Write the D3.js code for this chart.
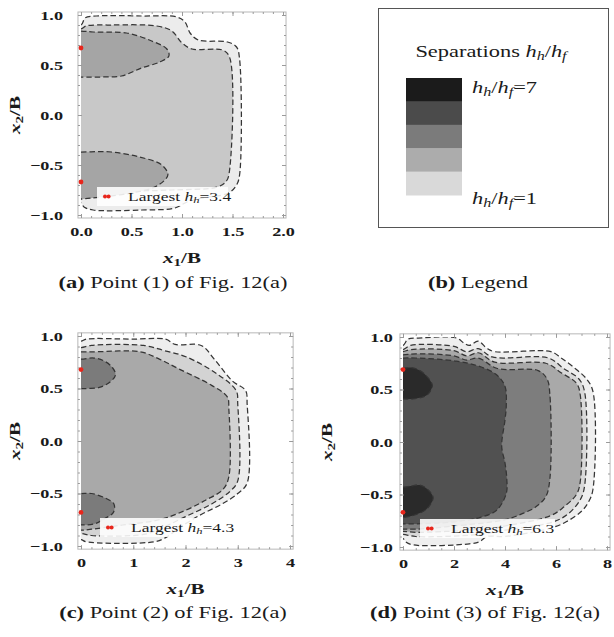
<!DOCTYPE html>
<html>
<head>
<meta charset="utf-8">
<script src="https://cdn.jsdelivr.net/npm/d3@7"></script>
<style>
  body { margin: 0; background: #fff; }
  text { font-family: "Liberation Serif", "Times New Roman", serif; fill: #1a1a1a; }
</style>
</head>
<body>
<svg width="614" height="637"></svg>
<script>
// ---- data ----
var yTicks = [-1, -0.5, 0, 0.5, 1],
    yTickLabels = ["\u22121.0", "\u22120.5", "0.0", "0.5", "1.0"];

var xTicksA = [0, 0.5, 1, 1.5, 2], xLabelsA = ["0.0", "0.5", "1.0", "1.5", "2.0"],
    xTicksC = [0, 1, 2, 3, 4],     xLabelsC = ["0", "1", "2", "3", "4"],
    xTicksD = [0, 2, 4, 6, 8],     xLabelsD = ["0", "2", "4", "6", "8"];

var largestHh = [3.4, 4.3, 6.3];
var peaksA = [[0, 0.67], [0, -0.67]],
    peaksC = [[0, 0.68], [0, -0.68]],
    peaksD = [[0, 0.69], [0, -0.67]];

// contour outlines (x1/B, x2/B); points left of x=0 are clipped away
var contourA1 = [[-0.3,0.9],[0,0.9],[0.04,0.97],[0.15,0.99],[0.6,0.99],[0.95,0.98],[1.03,0.93],[1.08,0.82],[1.16,0.75],[1.45,0.73],[1.54,0.68],[1.57,0.56],[1.57,-0.6],[1.54,-0.7],[1.46,-0.78],[1.2,-0.83],[1.05,-0.87],[0.93,-0.93],[0.6,-0.95],[0.12,-0.95],[0.03,-0.92],[0,-0.88],[-0.3,-0.88]];
var contourA2 = [[-0.3,0.86],[0,0.86],[0.05,0.89],[0.3,0.9],[0.75,0.89],[0.9,0.84],[1.0,0.72],[1.1,0.66],[1.4,0.65],[1.47,0.58],[1.47,-0.56],[1.44,-0.66],[1.35,-0.72],[0.9,-0.75],[0.3,-0.77],[0.08,-0.8],[0,-0.84],[-0.3,-0.84]];
var lobeA1 = [[-0.3,0.84],[0,0.84],[0.12,0.83],[0.45,0.82],[0.7,0.74],[0.85,0.66],[0.87,0.59],[0.78,0.53],[0.6,0.47],[0.4,0.39],[0.2,0.38],[0,0.38],[-0.3,0.38]];
var lobeA2 = [[-0.3,-0.37],[0,-0.37],[0.3,-0.37],[0.58,-0.42],[0.8,-0.5],[0.86,-0.6],[0.75,-0.71],[0.5,-0.78],[0.2,-0.82],[0,-0.84],[-0.3,-0.84]];

var contourC1 = [[-0.3,0.95],[0,0.95],[0.1,0.97],[1.0,0.97],[1.62,0.97],[1.8,0.92],[2.3,0.91],[2.55,0.78],[2.9,0.57],[3.15,0.48],[3.18,0.35],[3.18,-0.4],[3.0,-0.5],[2.7,-0.6],[2.3,-0.7],[1.9,-0.82],[1.62,-0.92],[1.4,-0.96],[0.1,-0.96],[0,-0.94],[-0.3,-0.94]];
var contourC2 = [[-0.3,0.89],[0,0.89],[0.2,0.91],[1.2,0.91],[1.6,0.86],[2.02,0.8],[2.6,0.64],[2.97,0.48],[3.0,0.35],[3.0,-0.38],[2.85,-0.48],[2.5,-0.6],[2.0,-0.72],[1.5,-0.84],[1.2,-0.89],[0.2,-0.9],[0,-0.88],[-0.3,-0.88]];
var contourC3 = [[-0.3,0.85],[0,0.85],[0.3,0.85],[1.13,0.85],[1.5,0.78],[1.9,0.68],[2.5,0.53],[2.8,0.42],[2.83,0.3],[2.83,-0.34],[2.72,-0.46],[2.4,-0.56],[2.0,-0.66],[1.5,-0.75],[0.8,-0.8],[0.2,-0.84],[0,-0.85],[-0.3,-0.85]];
var lobeC1 = [[-0.3,0.78],[0,0.78],[0.25,0.79],[0.45,0.76],[0.6,0.7],[0.66,0.63],[0.55,0.56],[0.35,0.51],[0.15,0.5],[0,0.5],[-0.3,0.5]];
var lobeC2 = [[-0.3,-0.5],[0,-0.5],[0.2,-0.5],[0.45,-0.54],[0.63,-0.6],[0.62,-0.68],[0.45,-0.74],[0.25,-0.79],[0,-0.8],[-0.3,-0.8]];

var contourD1 = [[-0.5,0.9],[0,0.92],[0.2,0.98],[0.6,0.99],[2.1,0.99],[2.4,0.94],[2.6,0.92],[2.95,0.96],[3.3,0.89],[3.6,0.86],[5.8,0.86],[6.2,0.8],[6.7,0.71],[7.2,0.6],[7.45,0.48],[7.45,-0.45],[7.3,-0.56],[7.0,-0.66],[6.4,-0.76],[5.8,-0.82],[4,-0.9],[3.3,-0.9],[3.0,-0.95],[2.6,-0.97],[0.4,-0.98],[0.1,-0.95],[0,-0.92],[-0.5,-0.92]];
var contourD2 = [[-0.5,0.88],[0,0.88],[0.3,0.92],[2.0,0.91],[2.5,0.86],[2.95,0.89],[3.5,0.81],[5.7,0.8],[6.3,0.7],[6.9,0.6],[7.12,0.48],[7.12,-0.42],[6.95,-0.55],[6.5,-0.68],[5.9,-0.76],[4,-0.84],[3,-0.88],[0.5,-0.9],[0,-0.88],[-0.5,-0.88]];
var contourD3 = [[-0.5,0.85],[0,0.86],[0.3,0.88],[2.0,0.87],[2.5,0.82],[2.95,0.85],[3.6,0.76],[5.6,0.75],[6.2,0.66],[6.8,0.56],[6.95,0.45],[6.95,-0.38],[6.8,-0.5],[6.3,-0.62],[5.8,-0.7],[4,-0.8],[2.5,-0.84],[0.5,-0.86],[0,-0.85],[-0.5,-0.85]];
var contourD4 = [[-0.5,0.83],[0,0.83],[0.5,0.84],[2,0.82],[2.5,0.78],[2.95,0.8],[3.7,0.7],[5.3,0.68],[5.65,0.6],[5.76,0.45],[5.76,-0.35],[5.6,-0.52],[5.2,-0.62],[4.7,-0.68],[4,-0.74],[2,-0.8],[0.5,-0.83],[0,-0.83],[-0.5,-0.83]];
var contourD5 = [[-0.5,0.8],[0,0.8],[0.5,0.8],[2.1,0.77],[3.0,0.72],[3.67,0.64],[4.0,0.53],[4.05,0.35],[4.0,0.21],[3.87,-0.04],[4.0,-0.2],[4.07,-0.35],[4.05,-0.49],[3.67,-0.65],[3.0,-0.72],[2,-0.76],[0.5,-0.78],[0,-0.78],[-0.5,-0.78]];
var lobeD1 = [[-0.5,0.7],[0,0.7],[0.3,0.71],[0.66,0.68],[0.95,0.62],[1.15,0.54],[1.0,0.46],[0.8,0.43],[0.4,0.41],[0,0.41],[-0.5,0.41]];
var lobeD2 = [[-0.5,-0.43],[0,-0.43],[0.3,-0.42],[0.66,-0.41],[1.0,-0.46],[1.18,-0.53],[1.0,-0.62],[0.8,-0.66],[0.4,-0.7],[0,-0.72],[-0.5,-0.72]];

var legendEnds = ["7", "1"];

// ---- styles ----
var fillsA = ["#ececec", "#c8c8c8", "#a5a5a5"],
    fillsC = ["#eeeeee", "#d3d3d3", "#a9a9a9", "#7b7b7b"],
    fillsD = ["#efefef", "#d9d9d9", "#a9a9a9", "#7d7d7d", "#515151", "#2a2a2a"],
    legendFills = ["#1b1b1b", "#4b4b4b", "#7b7b7b", "#acacac", "#d9d9d9"];

var SX = 1.4; // wide glyphs of the original
var svg = d3.select("svg");

function rich(t, parts, fs) {
  var shift = 0;
  parts.forEach(function(p) {
    var ts = t.append("tspan").text(p.t);
    if (p.i) ts.style("font-style", "italic");
    if (p.b) ts.style("font-weight", "bold");
    var target = p.s ? fs * 0.18 : 0;
    if (target !== shift) { ts.attr("dy", target - shift); shift = target; }
    if (p.s) ts.style("font-size", (fs * 0.72) + "px");
  });
}

function label(g, x, y, fs, anchor, parts, rot) {
  var t = g.append("text")
    .attr("transform", "translate(" + x + "," + y + ")" + (rot ? " rotate(" + rot + ")" : "") + " scale(" + SX + ",1)")
    .attr("text-anchor", anchor)
    .style("font-size", fs + "px");
  rich(t, parts, fs);
  return t;
}

function panel(cfg) {
  var x = d3.scaleLinear().domain([0, cfg.xMax]).range(cfg.xRange),
      y = d3.scaleLinear().domain([-1, 1]).range(cfg.yRange);
  var padX = cfg.xMax * 0.015, padY = 0.03;
  var fl = x(-padX), fr = x(cfg.xMax + padX), ft = y(1 + padY), fb = y(-1 - padY);
  var g = svg.append("g");

  g.append("clipPath").attr("id", "clip" + cfg.id)
    .append("rect")
    .attr("x", x(0)).attr("y", y(1))
    .attr("width", x(cfg.xMax) - x(0)).attr("height", y(-1) - y(1));

  var line = d3.line()
    .x(function(d) { return x(d[0]); })
    .y(function(d) { return y(d[1]); })
    .curve(d3.curveCatmullRomClosed.alpha(0.5));

  var plot = g.append("g").attr("clip-path", "url(#clip" + cfg.id + ")");
  cfg.layers.forEach(function(shapes, i) {
    plot.selectAll(null).data(shapes).enter().append("path")
      .attr("d", line)
      .attr("fill", cfg.fills[i])
      .attr("stroke", "#353535")
      .attr("stroke-width", 1.25)
      .attr("stroke-dasharray", "5.5,3");
  });

  g.append("rect")
    .attr("x", fl).attr("y", ft).attr("width", fr - fl).attr("height", fb - ft)
    .attr("fill", "none").attr("stroke", "#b8b8b8");

  var minorX = d3.range(0, cfg.xMax + 1e-9, cfg.minor),
      minorY = d3.range(-1, 1.0001, 0.1);

  function ticks(axis, tr, values, size, fmt) {
    var a = g.append("g").attr("transform", tr)
      .call(axis.tickValues(values).tickSizeInner(-size).tickSizeOuter(0)
        .tickFormat(fmt || "").tickPadding(9));
    a.select(".domain").remove();
    a.selectAll("line").attr("stroke", "#9a9a9a");
    return a;
  }
  ticks(d3.axisBottom(x), "translate(0," + fb + ")", minorX, 2);
  ticks(d3.axisTop(x), "translate(0," + ft + ")", minorX, 2);
  ticks(d3.axisLeft(y), "translate(" + fl + ",0)", minorY, 2);
  ticks(d3.axisRight(y), "translate(" + fr + ",0)", minorY, 2);
  ticks(d3.axisTop(x), "translate(0," + ft + ")", cfg.xTicks, 4);
  ticks(d3.axisRight(y), "translate(" + fr + ",0)", yTicks, 4);

  var bx = ticks(d3.axisBottom(x), "translate(0," + fb + ")", cfg.xTicks, 4,
    function(d, i) { return cfg.xLabels[i]; });
  bx.selectAll("text")
    .attr("y", 9).attr("transform", "scale(" + SX + ",1)")
    .style("font-size", "13px").style("font-weight", "bold");

  var ly = ticks(d3.axisLeft(y), "translate(" + fl + ",0)", yTicks, 4,
    function(d, i) { return yTickLabels[i]; });
  ly.selectAll("text")
    .attr("x", 0).attr("transform", "translate(" + (-cfg.yPad) + ",0) scale(" + SX + ",1)")
    .style("font-size", "13px").style("font-weight", "bold");

  // axis titles
  label(g, (fl + fr) / 2, fb + 45, 15, "middle",
    [{t: "x", i: 1, b: 1}, {t: "1", s: 1, b: 1}, {t: "/B", b: 1}]);
  label(g, cfg.yTitleX, y(0), 15, "middle",
    [{t: "x", i: 1, b: 1}, {t: "2", s: 1, b: 1}, {t: "/B", b: 1}], -90);

  // peak markers
  g.selectAll(null).data(cfg.peaks).enter().append("circle")
    .attr("cx", function(d) { return x(d[0]); })
    .attr("cy", function(d) { return y(d[1]); })
    .attr("r", 2.4).attr("fill", "#e8261c");

  // in-plot legend
  var lx = x(0) + cfg.boxDx, ly0 = y(-1) - 28;
  g.append("rect").attr("x", lx).attr("y", ly0).attr("width", cfg.boxW).attr("height", 19)
    .attr("fill", "#fff").attr("fill-opacity", 0.88);
  [0, 3.6].forEach(function(dx) {
    g.append("circle").attr("cx", lx + 8 + dx).attr("cy", ly0 + 9.5).attr("r", 2)
      .attr("fill", "#e8261c");
  });
  label(g, lx + 31, ly0 + 14, 12.5, "start",
    [{t: "Largest "}, {t: "h", i: 1}, {t: "h", i: 1, s: 1}, {t: "=" + d3.format(".1f")(cfg.largest)}]);

  // caption
  label(g, cfg.capX, cfg.capY, 16, "middle",
    [{t: "(" + cfg.id + ")", b: 1}, {t: " Point (" + cfg.point + ") of Fig. 12(a)"}]);
}

panel({id: "a", point: 1, xMax: 2, xRange: [81, 283], yRange: [215, 15], minor: 0.1,
  xTicks: xTicksA, xLabels: xLabelsA, yPad: 15, yTitleX: 20, largest: largestHh[0],
  peaks: peaksA, boxDx: 16, boxW: 131, capX: 173, capY: 288,
  fills: fillsA, layers: [[contourA1], [contourA2], [lobeA1, lobeA2]]});

panel({id: "c", point: 2, xMax: 4, xRange: [81, 290], yRange: [546, 336], minor: 0.2,
  xTicks: xTicksC, xLabels: xLabelsC, yPad: 15, yTitleX: 20, largest: largestHh[1],
  peaks: peaksC, boxDx: 19, boxW: 131, capX: 173, capY: 618,
  fills: fillsC, layers: [[contourC1], [contourC2], [contourC3], [lobeC1, lobeC2]]});

panel({id: "d", point: 3, xMax: 8, xRange: [403, 607], yRange: [547, 337], minor: 0.5,
  xTicks: xTicksD, xLabels: xLabelsD, yPad: 7, yTitleX: 332, largest: largestHh[2],
  peaks: peaksD, boxDx: 17, boxW: 135, capX: 485, capY: 618,
  fills: fillsD, layers: [[contourD1], [contourD2], [contourD3], [contourD4], [contourD5], [lobeD1, lobeD2]]});

// ---- legend panel (b) ----
var lg = svg.append("g");
lg.append("rect").attr("x", 378.5).attr("y", 8.5).attr("width", 230).attr("height", 219)
  .attr("fill", "none").attr("stroke", "#555");
label(lg, 491, 57, 16, "middle",
  [{t: "Separations "}, {t: "h", i: 1}, {t: "h", i: 1, s: 1}, {t: "/"}, {t: "h", i: 1}, {t: "f", i: 1, s: 1}]);
var band = d3.scaleBand().domain(d3.range(legendFills.length)).range([78, 195]);
lg.selectAll(null).data(legendFills).enter().append("rect")
  .attr("x", 406).attr("width", 56)
  .attr("y", function(d, i) { return band(i); })
  .attr("height", band.bandwidth() + 0.5)
  .attr("fill", function(d) { return d; });
[93, 204].forEach(function(yy, i) {
  label(lg, 472, yy, 16, "start",
    [{t: "h", i: 1}, {t: "h", i: 1, s: 1}, {t: "/"}, {t: "h", i: 1}, {t: "f", i: 1, s: 1}, {t: "=" + legendEnds[i]}]);
});
label(lg, 478, 288, 16, "middle", [{t: "(b)", b: 1}, {t: " Legend"}]);
</script>
</body>
</html>
